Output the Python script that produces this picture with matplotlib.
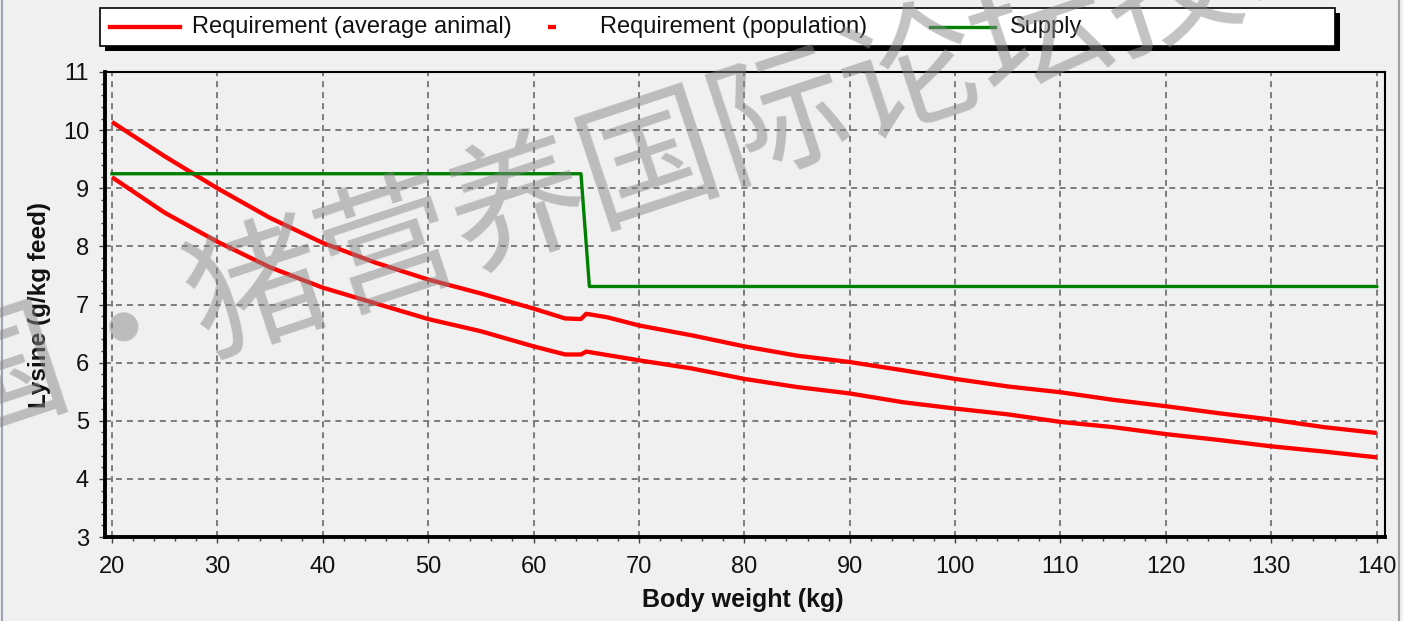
import matplotlib
matplotlib.use("Agg")
import matplotlib.pyplot as plt
from matplotlib.lines import Line2D
from matplotlib.patches import Rectangle
from matplotlib.ticker import MultipleLocator

plt.rcParams['font.family'] = ['Liberation Sans', 'DejaVu Sans']
plt.rcParams['lines.scale_dashes'] = False

# ---------------- data ----------------
weights = [20, 25, 30, 35, 40, 45, 50, 55, 60, 63, 64.5, 65, 67, 70, 75, 80,
           85, 90, 95, 100, 105, 110, 115, 120, 125, 130, 135, 140]
req_average = [9.19, 8.58, 8.08, 7.64, 7.29, 7.02, 6.75, 6.54, 6.28, 6.14, 6.14, 6.19,
               6.13, 6.04, 5.90, 5.72, 5.58, 5.47, 5.32, 5.21, 5.11, 4.98, 4.89,
               4.77, 4.67, 4.56, 4.47, 4.37]
req_population = [10.14, 9.55, 9.00, 8.49, 8.06, 7.72, 7.43, 7.19, 6.93, 6.76, 6.75, 6.84,
                  6.78, 6.64, 6.47, 6.28, 6.12, 6.01, 5.87, 5.72, 5.59, 5.49, 5.36,
                  5.25, 5.13, 5.02, 4.89, 4.79]
supply_weights = [20, 64.5, 65.3, 140]
supply = [9.25, 9.25, 7.31, 7.31]

x_ticks = [20, 30, 40, 50, 60, 70, 80, 90, 100, 110, 120, 130, 140]
y_ticks = [3, 4, 5, 6, 7, 8, 9, 10, 11]
legend_labels = ["Requirement (average animal)", "Requirement (population)", "Supply"]
x_label = "Body weight (kg)"
y_label = "Lysine (g/kg feed)"
watermark = "国·猪营养国际论坛技术"

# ---------------- figure ----------------
W, H = 1403, 621
DPI = 100
fig = plt.figure(figsize=(W / DPI, H / DPI), dpi=DPI, facecolor='#f0f0f0')

def fx(px):
    return px / W

def fy(py):
    return 1 - py / H

ax_left, ax_right, ax_top, ax_bottom = 105, 1385, 72, 537
ax = fig.add_axes([fx(ax_left), fy(ax_bottom), fx(ax_right) - fx(ax_left),
                   fy(ax_top) - fy(ax_bottom)])
ax.set_facecolor('#f0f0f0')

RED = '#ff0000'
GREEN = '#008000'

ax.plot(weights, req_average, color=RED, lw=3.1, solid_capstyle='butt', zorder=3)
ax.plot(weights, req_population, color=RED, lw=3.1, solid_capstyle='butt', zorder=3)
ax.plot(supply_weights, supply, color=GREEN, lw=2.4, zorder=3)

ax.set_xlim(19.34, 140.79)
ax.set_ylim(3, 11)
ax.set_xticks(x_ticks)
ax.set_yticks(y_ticks)
ax.xaxis.set_minor_locator(MultipleLocator(2))
ax.yaxis.set_minor_locator(MultipleLocator(0.2))

ax.grid(True, which='major', color='#6e6e6e', lw=1.25, linestyle=(0, (4.3, 3.6)), zorder=1)
ax.set_axisbelow(True)

for side in ['left', 'bottom']:
    ax.spines[side].set_linewidth(2.8)
for side in ['top', 'right']:
    ax.spines[side].set_linewidth(1.5)

ax.tick_params(axis='both', which='major', direction='out', length=4.5, width=1.0,
               color='#404040', labelsize=17, labelcolor='#111111')
ax.tick_params(axis='both', which='minor', direction='out', length=3, width=1.0,
               color='#404040')
ax.tick_params(axis='x', which='major', pad=9)
ax.tick_params(axis='y', which='major', pad=7)

ax.set_xlabel(x_label, fontsize=18, fontweight='bold', color='#111111')
ax.set_ylabel(y_label, fontsize=17.5, fontweight='bold', color='#111111')
ax.xaxis.set_label_coords((743 - ax_left) / (ax_right - ax_left),
                          (ax_bottom - 600) / (ax_bottom - ax_top))
ax.yaxis.set_label_coords((40 - ax_left) / (ax_right - ax_left), 0.5)
ax.xaxis.label.set_va('center')
ax.yaxis.label.set_va('center')

# ---------------- legend box ----------------
lx0, lx1, ly0, ly1 = 100, 1335, 8, 46
fig.add_artist(Rectangle((fx(lx0 + 5), fy(ly1 + 5)), fx(lx1) - fx(lx0),
                         fy(ly0) - fy(ly1), transform=fig.transFigure,
                         facecolor='black', edgecolor='none', zorder=4))
fig.add_artist(Rectangle((fx(lx0), fy(ly1)), fx(lx1) - fx(lx0),
                         fy(ly0) - fy(ly1), transform=fig.transFigure,
                         facecolor='white', edgecolor='black', lw=1.2, zorder=5))
ly = 27
fig.add_artist(Line2D([fx(110), fx(180)], [fy(ly), fy(ly)], transform=fig.transFigure,
                      color=RED, lw=3.1, zorder=6))
fig.add_artist(Line2D([fx(548), fx(556)], [fy(ly), fy(ly)], transform=fig.transFigure,
                      color=RED, lw=3.1, zorder=6, solid_capstyle='butt'))
fig.add_artist(Line2D([fx(930), fx(995)], [fy(ly), fy(ly)], transform=fig.transFigure,
                      color=GREEN, lw=2.4, zorder=6))
for xpos, lab in zip([192, 600, 1010], legend_labels):
    fig.text(fx(xpos), fy(ly), lab, fontsize=17, color='#111111', ha='left',
             va='center', zorder=7)

# window edges
fig.add_artist(Line2D([fx(1.5), fx(1.5)], [0, 1], transform=fig.transFigure,
                      color='#9aa4b4', lw=1.5, zorder=8))
fig.add_artist(Line2D([fx(1399), fx(1399)], [0, 1], transform=fig.transFigure,
                      color='#a0a0a0', lw=1.5, zorder=8))

# ---------------- watermark ----------------
fig.text(fx(650), fy(163), watermark, fontsize=99, rotation=18.3, rotation_mode='anchor',
         ha='center', va='center', color='#888888', alpha=0.5,
         family=['Noto Sans CJK SC', 'DejaVu Sans'], zorder=10)

fig.savefig('out.png', dpi=DPI, facecolor=fig.get_facecolor())
